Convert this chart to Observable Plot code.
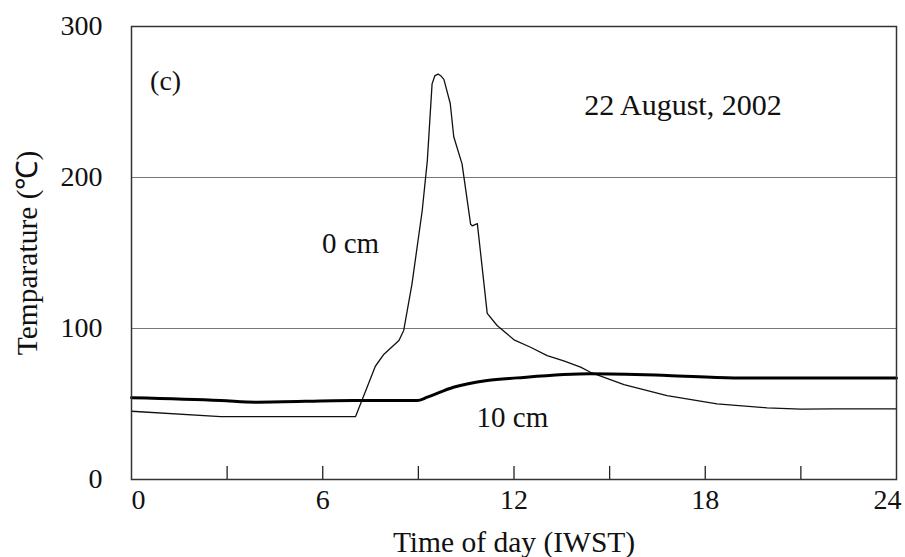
<!DOCTYPE html>
<html><head><meta charset="utf-8">
<script src="https://cdn.jsdelivr.net/npm/d3@7"></script>
<script src="https://cdn.jsdelivr.net/npm/@observablehq/plot@0.6"></script>
<style>
html,body{margin:0;padding:0;background:#fff;}
svg{font-family:"Liberation Serif","Times New Roman",serif;}
</style></head>
<body><div id="chart"></div>
<script>
const time0 = [0, 2.8, 7.03, 7.65, 7.92, 8.39, 8.54, 8.8, 9.12, 9.28, 9.43, 9.52, 9.62, 9.72, 9.8, 10.0, 10.11, 10.37, 10.64, 10.69, 10.85, 11.16, 11.47, 12.0, 12.52, 13.04, 13.56, 14.09, 14.4, 15.45, 16.8, 18.37, 19.94, 21.0, 22.0, 24];
const temp0 = [45.2, 41.7, 41.7, 75, 83, 92, 98.7, 129.6, 178, 211, 262, 267.5, 268.5, 267, 265, 249, 227, 209, 169, 168, 169.5, 110, 102, 92.5, 87.6, 82, 78.5, 74.4, 71, 62.9, 55.6, 50.1, 47.5, 46.6, 46.8, 46.8];
const time10 = [0, 2.8, 3.94, 6.97, 8.96, 9.28, 10.1, 11.16, 12.1, 14.4, 16.8, 18.9, 24];
const temp10 = [54.1, 52.3, 51.2, 52.3, 52.3, 54.5, 61.1, 65.6, 67.3, 70, 68.9, 67.3, 67.3];
const xFirstTick = [0];
const xTickLabels = [6, 12, 18];
const xLastTick = [24];
const xTickMarks = [3, 6, 9, 12, 15, 18, 21];
const yTickLabels = [0, 100, 200, 300];
const gridValues = [100, 200];
const labels = [
  {t: 1.07, v: 264, text: "(c)", size: 28},
  {t: 17.3, v: 248, text: "22 August, 2002", size: 30},
  {t: 6.87, v: 156, text: "0 cm", size: 29},
  {t: 11.95, v: 41, text: "10 cm", size: 29}
];
const d0 = time0.map((t, i) => ({t, v: temp0[i]}));
const d10 = time10.map((t, i) => ({t, v: temp10[i]}));

const chart = Plot.plot({
  width: 905, height: 557,
  marginLeft: 131, marginRight: 9, marginTop: 26, marginBottom: 78,
  style: {fontFamily: "'Liberation Serif', 'Times New Roman', serif", fontSize: "27px", color: "#111", background: "#fff"},
  x: {domain: [0, 24]},
  y: {domain: [0, 300]},
  marks: [
    Plot.ruleY(gridValues, {stroke: "#777", strokeWidth: 1.2}),
    Plot.ruleX(xTickMarks, {y1: 0, y2: 8.6, stroke: "#222", strokeWidth: 1.3}),
    Plot.line(d0, {x: "t", y: "v", stroke: "#111", strokeWidth: 1.3}),
    Plot.line(d10, {x: "t", y: "v", stroke: "#000", strokeWidth: 3, curve: "monotone-x"}),
    Plot.text(labels, {x: "t", y: "v", text: "text", fontSize: (d) => d.size, fill: "#111"}),
    Plot.frame({stroke: "#333", strokeWidth: 1.5}),
    Plot.axisX(xTickLabels, {tickSize: 0, tickPadding: 10, fontSize: 28, label: "Time of day (IWST)", labelAnchor: "center", labelOffset: 72, labelArrow: "none"}),
    Plot.axisX(xFirstTick, {tickSize: 0, tickPadding: 10, fontSize: 28, dx: 7, label: null}),
    Plot.axisX(xLastTick, {tickSize: 0, tickPadding: 10, fontSize: 28, dx: -9, label: null}),
    Plot.axisY(yTickLabels, {tickSize: 0, tickPadding: 29, fontSize: 28, label: "Temparature (\u2103)", labelAnchor: "center", labelOffset: 115, labelArrow: "none"})
  ]
});
// enlarge axis titles to match the reference
chart.querySelectorAll("text").forEach((el) => {
  const s = el.textContent;
  if (s === "Time of day (IWST)" || s === "Temparature (\u2103)") el.setAttribute("font-size", "29.5");
});
document.getElementById("chart").appendChild(chart);
</script></body></html>
